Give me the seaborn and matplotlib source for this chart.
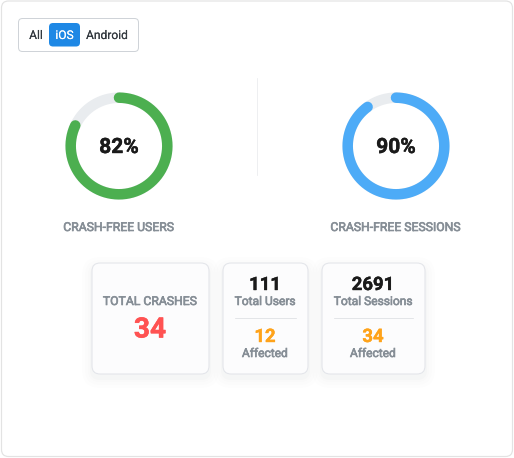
import numpy as np
import pandas as pd
import matplotlib
matplotlib.use("Agg")
import matplotlib.pyplot as plt
import matplotlib.patheffects as pe
from matplotlib.patches import FancyBboxPatch
import seaborn as sns

gauge_labels = ["CRASH-FREE USERS", "CRASH-FREE SESSIONS"]
gauge_values = [82, 90]
gauge_colors = ["#4caf50", "#4dabf7"]
toggle_labels = ["All", "iOS", "Android"]
total_crashes = 34
stat_totals = [111, 2691]
stat_total_labels = ["Total Users", "Total Sessions"]
stat_affected = [12, 34]

sns.set_theme(style="white")
plt.rcParams["font.family"] = ["Roboto", "DejaVu Sans"]

W, H = 514, 458
fig = plt.figure(figsize=(W / 100, H / 100), dpi=100, facecolor="white")
ax = fig.add_axes([0, 0, 1, 1])
ax.set_xlim(0, W)
ax.set_ylim(H, 0)
ax.axis("off")
PX = 0.72


def rbox(x0, y0, x1, y1, r, fc, ec="none", lw=1.0, alpha=None, z=1):
    p = FancyBboxPatch((x0 + r, y0 + r), x1 - x0 - 2 * r, y1 - y0 - 2 * r,
                       boxstyle=f"round,pad={r},rounding_size={r}",
                       fc=fc, ec=ec, lw=lw * PX, alpha=alpha, zorder=z)
    ax.add_patch(p)


def label(x, y, s, px, color, weight="normal", stroke=0.0, z=6):
    t = ax.text(x, y, s, fontsize=px * PX, color=color, fontweight=weight,
                ha="center", va="center", zorder=z)
    if stroke:
        t.set_path_effects([pe.withStroke(linewidth=stroke, foreground=color)])


# outer card
rbox(1.5, 1, 512.5, 456.5, 7, "white", "#e3e3e3", 1.2, z=0)

# toggle
rbox(18.5, 18.5, 138.5, 51.5, 4, "white", "#cfd3d8", 1.0, z=2)
rbox(49, 23, 80, 46.5, 4, "#1e88e5", z=3)
for x, s, c in zip([36, 64.5, 107], toggle_labels, ["#343a40", "white", "#343a40"]):
    label(x, 35.5, s, 12, c, stroke=0.05)

# gauges
RADIUS = 48.3
for cx, value, color, name in zip([119, 396], gauge_values, gauge_colors, gauge_labels):
    t_full = np.linspace(0, 2 * np.pi, 361)
    ax.plot(cx + RADIUS * np.sin(t_full), 146 - RADIUS * np.cos(t_full),
            color="#e9ecef", lw=10.5 * PX, zorder=2)
    t = np.linspace(0, 2 * np.pi * value / 100, 361)
    df = pd.DataFrame({"x": cx + RADIUS * np.sin(t), "y": 146 - RADIUS * np.cos(t)})
    sns.lineplot(data=df, x="x", y="y", ax=ax, sort=False, estimator=None,
                 color=color, lw=10.5 * PX, solid_capstyle="round", zorder=3)
    label(cx, 147.5, f"{value}%", 21, "#1a1a1a", "bold", stroke=0.3)
    label(cx - 0.5, 227.5, name, 12.2, "#868e96", stroke=0.45)
ax.set_xlim(0, W)
ax.set_ylim(H, 0)
ax.set_xlabel("")
ax.set_ylabel("")

# divider
ax.plot([257, 257], [78, 175], color="#eeeff1", lw=1 * PX, zorder=1)


def card(x0, x1):
    y0, y1 = 263, 374
    for g, a in zip([10, 7, 4, 2], [0.006, 0.008, 0.012, 0.018]):
        rbox(x0 - g, y0 - g + 4, x1 + g, y1 + g + 4, 8 + g, "#5a6270", alpha=a, z=1)
    rbox(x0, y0, x1, y1, 8, "#fcfcfd", "#e2e4e9", 1.0, z=2)


card(92, 209)
label(150, 301.5, "TOTAL CRASHES", 12.2, "#868e96", stroke=0.45)
label(150, 330, str(total_crashes), 28, "#ff5252", "bold", stroke=0.4)

for x0, x1, lx0, lx1, tot, name, aff in zip(
        [223, 322], [308, 425], [235, 334], [296, 413],
        stat_totals, stat_total_labels, stat_affected):
    card(x0, x1)
    cx = (lx0 + lx1) / 2
    label(cx - 0.5, 285, str(tot), 18.5, "#1a1a1a", "bold", stroke=0.3)
    label(cx - 0.5, 301.5, name, 12, "#868e96", stroke=0.45)
    ax.plot([lx0, lx1], [318, 318], color="#e3e5e8", lw=1 * PX, zorder=4)
    label(cx - 0.5, 337, str(aff), 18.5, "#ffa31a", "bold", stroke=0.3)
    label(cx - 0.5, 353.5, "Affected", 12, "#868e96", stroke=0.45)

fig.savefig("out.png", dpi=100, facecolor="white")
